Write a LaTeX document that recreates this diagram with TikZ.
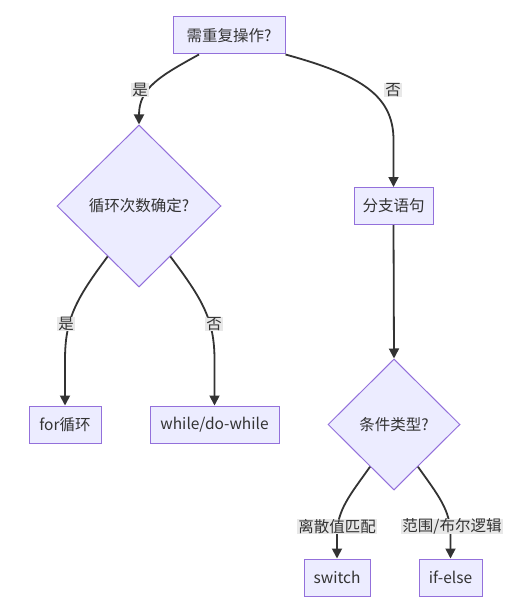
\documentclass[tikz,border=0pt]{standalone}
\usepackage{fontspec}
\setmainfont{Noto Sans CJK SC}
\usepackage{xcolor}
\usepackage{tikz}
\usetikzlibrary{shapes.geometric,arrows.meta,calc}

\definecolor{nodefill}{HTML}{ECECFF}
\definecolor{nodeline}{HTML}{9370DB}
\definecolor{edgeline}{HTML}{333333}
\definecolor{labelfill}{HTML}{E8E8E8}

\begin{document}
\begin{tikzpicture}[x=1pt,y=-1pt,
  every node/.style={font=\fontsize{15.5}{18}\selectfont, text=edgeline},
  box/.style={draw=nodeline, fill=nodefill, line width=1pt, minimum height=37pt, inner sep=0pt},
  decision/.style={diamond, draw=nodeline, fill=nodefill, line width=1pt, inner sep=0pt},
  edge/.style={draw=edgeline, line width=1.8pt, -{Triangle[length=10pt,width=10pt]}},
  edgelabel/.style={fill=labelfill, inner xsep=1pt, inner ysep=0pt}]
\useasboundingbox (0,0) rectangle (531,599);

\node[box, minimum width=112pt] (repeat) at (229,35.5) {需重复操作?};
\node[decision, minimum width=164pt, minimum height=162pt] (loopcount) at (139,206) {循环次数确定?};
\node[box, minimum width=79pt] (branch) at (393.5,206) {分支语句};
\node[box, minimum width=72pt] (forloop) at (65,424.5) {for循环};
\node[box, minimum width=129pt] (whileloop) at (214.5,424.5) {while/do-while};
\node[decision, minimum width=132pt, minimum height=131pt] (condtype) at (394,424.5) {条件类型?};
\node[box, minimum width=66pt] (switch) at (337,577.5) {switch};
\node[box, minimum width=63pt] (ifelse) at (450.5,577.5) {if-else};

\draw[edge] ([xshift=-30pt]repeat.south) .. controls (160,76) and (139,88) .. (loopcount.north);
\draw[edge] (repeat.south east) .. controls (360,75) and (393.5,95) .. (393.5,140) -- (branch.north);
\draw[edge] ($(loopcount.west)!0.62!(loopcount.south)$) .. controls (75,300) and (65,320) .. (65,360) -- (forloop.north);
\draw[edge] ($(loopcount.east)!0.62!(loopcount.south)$) .. controls (203,300) and (214.5,320) .. (214.5,360) -- (whileloop.north);
\draw[edge] (branch.south) -- (condtype.north);
\draw[edge] ($(condtype.west)!0.64!(condtype.south)$) .. controls (350,495) and (337,510) .. (337,535) -- (switch.north);
\draw[edge] ($(condtype.east)!0.64!(condtype.south)$) .. controls (438,495) and (450.5,510) .. (450.5,535) -- (ifelse.north);

\node[edgelabel] (yes1) at (140,90) {是};
\node[edgelabel] (no1) at (393,90) {否};
\node[edgelabel] (yes2) at (66,324) {是};
\node[edgelabel] (no2) at (214,324) {否};
\node[edgelabel] (discrete) at (337,526.5) {离散值匹配};
\node[edgelabel] (range) at (452,526.5) {范围/布尔逻辑};
\end{tikzpicture}
\end{document}
